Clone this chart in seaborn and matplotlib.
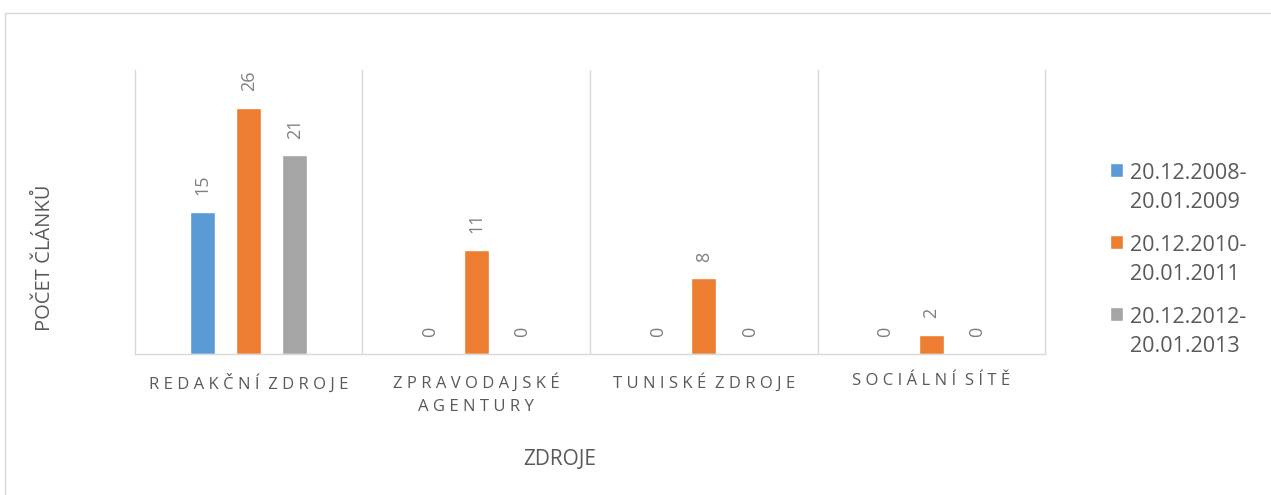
import numpy as np
import pandas as pd
import seaborn as sns
import matplotlib.pyplot as plt
from matplotlib.patches import Rectangle

# data
categories = ["REDAKČNÍ ZDROJE", "ZPRAVODAJSKÉ\nAGENTURY", "TUNISKÉ ZDROJE", "SOCIÁLNÍ SÍTĚ"]
periods = ["20.12.2008-\n20.01.2009", "20.12.2010-\n20.01.2011", "20.12.2012-\n20.01.2013"]
counts_2009 = [15, 0, 0, 0]
counts_2011 = [26, 11, 8, 2]
counts_2013 = [21, 0, 0, 0]
colors = ["#5B9BD5", "#ED7D31", "#A5A5A5"]

df = pd.DataFrame({
    "zdroj": categories * 3,
    "obdobi": np.repeat(periods, len(categories)),
    "pocet": counts_2009 + counts_2011 + counts_2013,
})


def spaced(s):
    # fake Excel letter spacing
    lines = []
    for line in s.split("\n"):
        words = [" ".join(w) for w in line.split(" ")]
        lines.append("  ".join(words))
    return "\n".join(lines)


sns.set_style("white")
plt.rcParams['font.family'] = ['Open Sans', 'DejaVu Sans']

fig = plt.figure(figsize=(12.71, 4.95), dpi=100)
ax = fig.add_axes([0.1062, 0.2848, 0.716, 0.5738])

sns.barplot(data=df, x="zdroj", y="pocet", hue="obdobi", order=categories,
            hue_order=periods, palette=colors, saturation=1,
            width=0.606, gap=0.455, ax=ax)

for c in ax.containers:
    ax.bar_label(c, padding=12, rotation=90, fontsize=13, color='#7f7f7f')

ax.set_ylim(0, 30)
ax.set_xlim(-0.5, 3.5)
ax.set_yticks([])
ax.set_xticks(range(len(categories)))
ax.set_xticklabels([spaced(c) for c in categories], fontsize=12,
                   color='#595959', linespacing=1.6)
ax.set_xticks([0.5, 1.5, 2.5], minor=True)
ax.grid(which='minor', axis='x', color='#d9d9d9', linewidth=1)
ax.tick_params(which='both', length=0)
ax.tick_params(axis='x', pad=14)

ax.spines['top'].set_visible(False)
for side in ['left', 'right', 'bottom']:
    ax.spines[side].set_color('#d9d9d9')
    ax.spines[side].set_linewidth(1)

ax.set_xlabel("ZDROJE", fontsize=15, color='#595959')
ax.xaxis.set_label_coords(0.467, -0.335)
ax.set_ylabel("POČET ČLÁNKŮ", fontsize=14.5, color='#595959')
ax.yaxis.set_label_coords(-0.088, 0.34)

leg = ax.legend(loc='center left', bbox_to_anchor=(1110 / 1271, 0.4747),
                bbox_transform=fig.transFigure, frameon=False, fontsize=15.5,
                handlelength=0.62, handleheight=0.62, handletextpad=0.3,
                labelspacing=1.0, borderpad=0, borderaxespad=0)
for t in leg.get_texts():
    t.set_color('#595959')
    t.set_linespacing(1.52)
# square sits next to the first line of each label
for col in leg._legend_handle_box.get_children():
    for item in col.get_children():
        item.align = "top"

# outer chart border
fig.patches.append(Rectangle((5 / 1271, -0.1), 1.2, 1 - 13 / 495 + 0.1,
                             transform=fig.transFigure, fill=False,
                             edgecolor='#d9d9d9', linewidth=1))

fig.savefig("out.png", dpi=100)
